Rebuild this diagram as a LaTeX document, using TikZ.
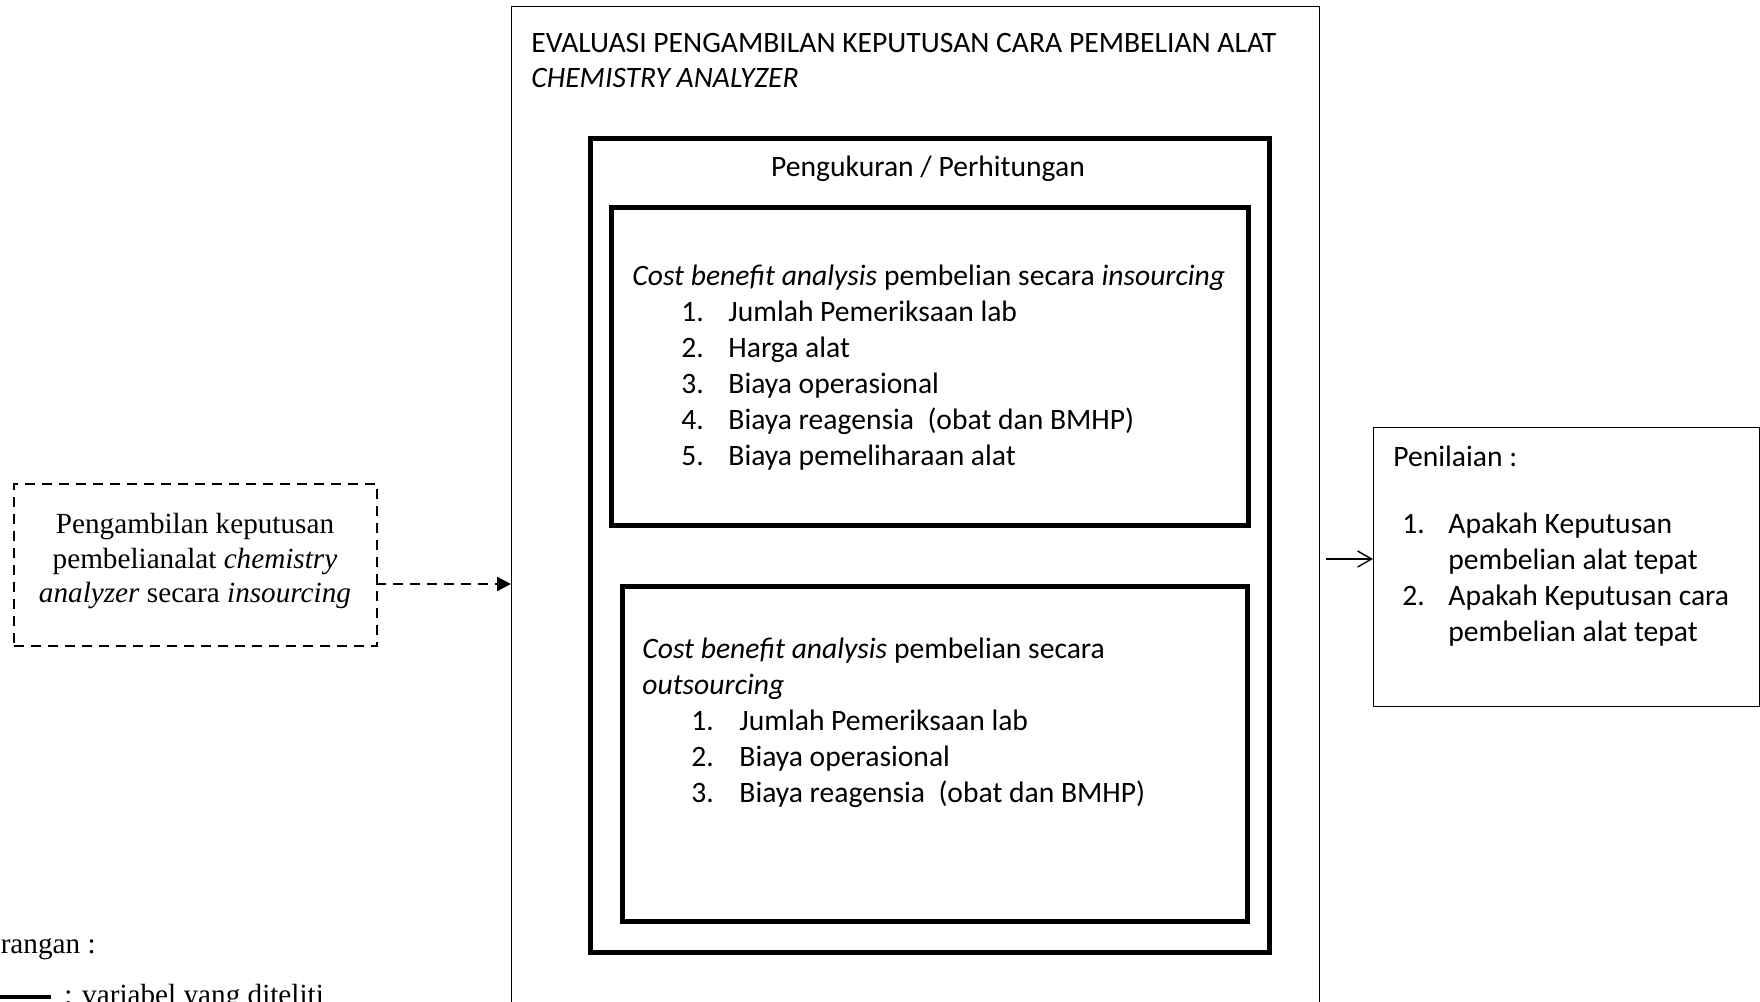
\documentclass[tikz,border=0pt]{standalone}
\usepackage{fontspec}
\setmainfont{Liberation Serif}
\newfontfamily\calfont{Carlito}
\usetikzlibrary{arrows.meta}
\begin{document}
\begin{tikzpicture}[x=0.5pt,y=-0.5pt,
  thinbox/.style={draw, line width=0.7pt, inner sep=0, anchor=north west},
  thickbox/.style={draw, line width=2.3pt, inner sep=0, anchor=north west},
  dashbox/.style={draw, line width=1.2pt, dash pattern=on 5pt off 3.5pt, inner sep=0, anchor=north west},
  ctext/.style={font=\calfont\fontsize{14.8}{18}\selectfont, inner sep=0, anchor=base west},
  ttext/.style={font=\fontsize{14.6}{17}\selectfont, inner sep=0, anchor=base},
]
\useasboundingbox (0,0) rectangle (1760,1001);

% boxes
\node[thinbox, minimum width=404pt, minimum height=507pt] (main) at (511,6) {};
\node[thickbox, minimum width=339.5pt, minimum height=407pt] (peng) at (588,136) {};
\node[thickbox, minimum width=318.5pt, minimum height=159pt] (ins) at (609,205) {};
\node[thickbox, minimum width=312.5pt, minimum height=167.5pt] (outs) at (620,584) {};
\node[dashbox, minimum width=181.5pt, minimum height=81pt] (keputusan) at (13,483) {};
\node[thinbox, minimum width=193pt, minimum height=139.5pt] (pen) at (1373,427) {};

% title
\node[ctext] (t1) at (531,52) {EVALUASI PENGAMBILAN KEPUTUSAN CARA PEMBELIAN ALAT};
\node[ctext] (t2) at (531,87) {\itshape CHEMISTRY ANALYZER};
\node[ctext, anchor=base] (t3) at (928,176) {Pengukuran / Perhitungan};

% insourcing
\node[ctext] (i0) at (632,285) {\textit{Cost benefit analysis} pembelian secara \textit{insourcing}};
\node[ctext] (i1n) at (681,321) {1.};
\node[ctext] (i1) at (728,321) {Jumlah Pemeriksaan lab};
\node[ctext] (i2n) at (681,357) {2.};
\node[ctext] (i2) at (728,357) {Harga alat};
\node[ctext] (i3n) at (681,393) {3.};
\node[ctext] (i3) at (728,393) {Biaya operasional};
\node[ctext] (i4n) at (681,429) {4.};
\node[ctext] (i4) at (728,429) {Biaya reagensia\ \ (obat dan BMHP)};
\node[ctext] (i5n) at (681,465) {5.};
\node[ctext] (i5) at (728,465) {Biaya pemeliharaan alat};

% outsourcing
\node[ctext] (o0) at (642,658) {\textit{Cost benefit analysis} pembelian secara};
\node[ctext] (o0b) at (642,694) {\textit{outsourcing}};
\node[ctext] (o1n) at (691,730) {1.};
\node[ctext] (o1) at (739,730) {Jumlah Pemeriksaan lab};
\node[ctext] (o2n) at (691,766) {2.};
\node[ctext] (o2) at (739,766) {Biaya operasional};
\node[ctext] (o3n) at (691,802) {3.};
\node[ctext] (o3) at (739,802) {Biaya reagensia\ \ (obat dan BMHP)};

% penilaian
\node[ctext] (p0) at (1393,466) {Penilaian :};
\node[ctext] (p1n) at (1402,533) {1.};
\node[ctext] (p1) at (1448,533) {Apakah Keputusan};
\node[ctext] (p1b) at (1448,569) {pembelian alat tepat};
\node[ctext] (p2n) at (1402,605) {2.};
\node[ctext] (p2) at (1448,605) {Apakah Keputusan cara};
\node[ctext] (p2b) at (1448,641) {pembelian alat tepat};

% left dashed box text
\node[ttext] (k1) at (195,533) {Pengambilan keputusan};
\node[ttext] (k2) at (195,568) {pembelianalat \textit{chemistry}};
\node[ttext] (k3) at (195,602) {\textit{analyzer} secara \textit{insourcing}};

% connectors
\coordinate (dA) at (376,584);
\draw[line width=1.2pt, dash pattern=on 5pt off 3.5pt, -{Triangle[length=7pt,width=7pt]}] (dA) -- (dA -| main.west);
\coordinate (rA) at (1326,559);
\draw[line width=0.7pt, -{Straight Barb[length=7pt,width=8pt]}] (rA) -- (rA -| pen.west);

% legend
\node[ttext, anchor=base east] (ket) at (96,953) {Keterangan :};
\coordinate (l0) at (0,997);
\coordinate (l1) at (51,997);
\draw[line width=2.4pt] (l0) -- (l1);
\node[ttext, anchor=base west] (var) at (64,1004) {: variabel yang diteliti};
\end{tikzpicture}
\end{document}
